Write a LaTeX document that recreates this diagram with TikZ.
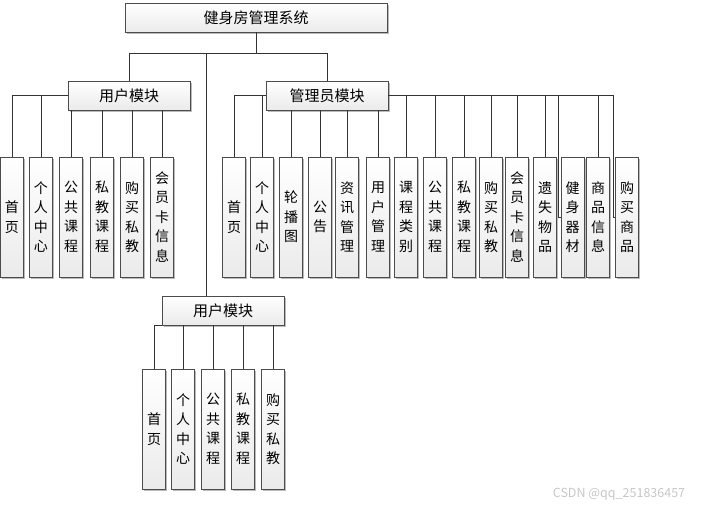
\documentclass[tikz,border=0pt]{standalone}
\usepackage{fontspec}
\newfontfamily\cjk{Noto Sans CJK SC}
\usetikzlibrary{shadows}

\tikzset{
  box/.style={draw=black!70, line width=0.8pt, top color=white, bottom color=black!8,
    drop shadow={shadow xshift=1.5pt, shadow yshift=-1.5pt, fill=black!45, opacity=0.6}, inner sep=0pt},
  head/.style={box, minimum height=29pt, font=\cjk\fontsize{15}{18}\selectfont},
  leaf/.style={box, minimum width=23pt, minimum height=120pt, align=center, font=\cjk\fontsize{14}{19.5}\selectfont},
  link/.style={draw=black!80, line width=0.8pt}
}

\begin{document}
\begin{tikzpicture}[x=1pt, y=-1pt]
\useasboundingbox (0,0) rectangle (705,507);

% Root node
\node[head, minimum width=262pt] (root) at (256,17.5) {健身房管理系统};

% Module nodes
\node[head, minimum width=122pt] (um) at (129,95.5) {用户模块};
\node[head, minimum width=122pt] (am) at (327,95.5) {管理员模块};
\node[head, minimum width=122pt] (bm) at (223,310.5) {用户模块};

% User module leaves
\node[leaf] (u1) at (12,217) {首\\页};
\node[leaf] (u2) at (41,217) {个\\人\\中\\心};
\node[leaf] (u3) at (71,217) {公\\共\\课\\程};
\node[leaf] (u4) at (102,217) {私\\教\\课\\程};
\node[leaf] (u5) at (132,217) {购\\买\\私\\教};
\node[leaf] (u6) at (162,217) {会\\员\\卡\\信\\息};

% Admin module leaves
\node[leaf] (a1) at (234,217) {首\\页};
\node[leaf] (a2) at (262,217) {个\\人\\中\\心};
\node[leaf] (a3) at (291,217) {轮\\播\\图};
\node[leaf] (a4) at (320,217) {公\\告};
\node[leaf] (a5) at (347,217) {资\\讯\\管\\理};
\node[leaf] (a6) at (378,217) {用\\户\\管\\理};
\node[leaf] (a7) at (406,217) {课\\程\\类\\别};
\node[leaf] (a8) at (435,217) {公\\共\\课\\程};
\node[leaf] (a9) at (464,217) {私\\教\\课\\程};
\node[leaf] (a10) at (491,217) {购\\买\\私\\教};
\node[leaf] (a11) at (517,217) {会\\员\\卡\\信\\息};
\node[leaf] (a12) at (545,217) {遗\\失\\物\\品};
\node[leaf] (a13) at (572.5,217) {健\\身\\器\\材};
\node[leaf] (a14) at (598,217) {商\\品\\信\\息};
\node[leaf] (a15) at (627,217) {购\\买\\商\\品};

% Lower user module leaves
\node[leaf] (b1) at (154,429) {首\\页};
\node[leaf] (b2) at (183,429) {个\\人\\中\\心};
\node[leaf] (b3) at (213,429) {公\\共\\课\\程};
\node[leaf] (b4) at (243,429) {私\\教\\课\\程};
\node[leaf] (b5) at (273,429) {购\\买\\私\\教};

% Root connections
\coordinate (split) at (256,53);
\coordinate (drop) at (206,53);
\draw[link] (root.south) -- (split);
\draw[link] (split) -| (um.north);
\draw[link] (split) -| (am.north);
\draw[link] (drop) -- (drop |- bm.north);

% User module connections
\draw[link] (u1.north) |- (um.west);
\draw[link] (u2.north) |- (um.west);
\draw[link] (u3.north) -- (u3.north |- um.south);
\draw[link] (u4.north) -- (u4.north |- um.south);
\draw[link] (u5.north) -- (u5.north |- um.south);
\draw[link] (u6.north) -- (u6.north |- um.south);

% Admin module connections
\draw[link] (a1.north) |- (am.west);
\draw[link] (a2.north) |- (am.west);
\draw[link] (a3.north) -- (a3.north |- am.south);
\draw[link] (a4.north) -- (a4.north |- am.south);
\draw[link] (a5.north) -- (a5.north |- am.south);
\draw[link] (a6.north) -- (a6.north |- am.south);
\draw[link] (a7.north) |- (am.east);
\draw[link] (a8.north) |- (am.east);
\draw[link] (a9.north) |- (am.east);
\draw[link] (a10.north) |- (am.east);
\draw[link] (a11.north) |- (am.east);
\draw[link] (a12.north) |- (am.east);
\draw[link] (a13.west) -- ++(-2,0) |- (am.east);
\draw[link] (a14.north) |- (am.east);
\draw[link] (a15.west) -- ++(-2,0) |- (am.east);

% Lower user module connections
\draw[link] (b1.north) |- (bm.south west);
\draw[link] (b2.north) -- (b2.north |- bm.south);
\draw[link] (b3.north) -- (b3.north |- bm.south);
\draw[link] (b4.north) -- (b4.north |- bm.south);
\draw[link] (b5.north) -- (b5.north |- bm.south);

% Watermark
\node[text=black!22, font=\cjk\fontsize{12.5}{14}\selectfont] (mark) at (619,494) {CSDN @qq\_251836457};

\end{tikzpicture}
\end{document}
